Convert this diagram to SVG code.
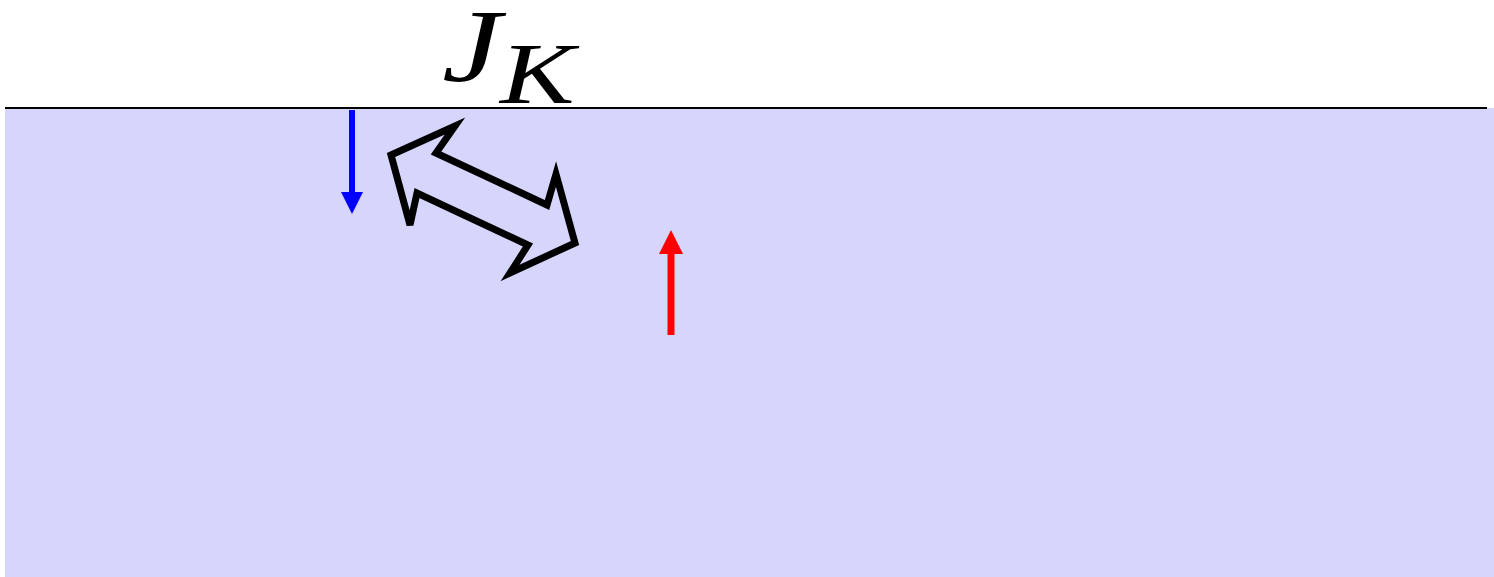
<svg xmlns="http://www.w3.org/2000/svg" width="1494" height="577" viewBox="0 0 1494 577">
<style>
.math{font-family:"Liberation Serif","DejaVu Serif",serif;font-style:italic;fill:#000}
</style>
<defs>
<marker id="hb" viewBox="0 0 24 22" refX="0" refY="11" markerWidth="24" markerHeight="22" markerUnits="userSpaceOnUse" orient="auto"><path d="M0,0 L22,11 L0,22 Z" fill="#0000ff"/></marker>
<marker id="hr" viewBox="0 0 24 24" refX="0" refY="12" markerWidth="24" markerHeight="24" markerUnits="userSpaceOnUse" orient="auto"><path d="M0,0 L24,12 L0,24 Z" fill="#ff0000"/></marker>
</defs>
<rect x="5" y="108" width="1489" height="469" fill="#d6d6fc"/>
<line x1="5" y1="108" x2="1487" y2="108" stroke="#000" stroke-width="2"/>
<g id="label">
<text class="math" transform="translate(442,81) scale(1.28,1)" font-size="104">J</text>
<text class="math" transform="translate(500,103) scale(1.3,1)" font-size="86">K</text>
</g>
<g id="connectors">
<line x1="352" y1="110" x2="352" y2="192" stroke="#0000ff" stroke-width="6" marker-end="url(#hb)"/>
<line x1="671" y1="335" x2="671" y2="254" stroke="#ff0000" stroke-width="7" marker-end="url(#hr)"/>
<polygon points="391,155 455,126 436,153 547,205 556,174 575,243 510,273 528,245 417,193 410,225" fill="none" stroke="#000" stroke-width="7" stroke-linejoin="miter"/>
</g>
</svg>
